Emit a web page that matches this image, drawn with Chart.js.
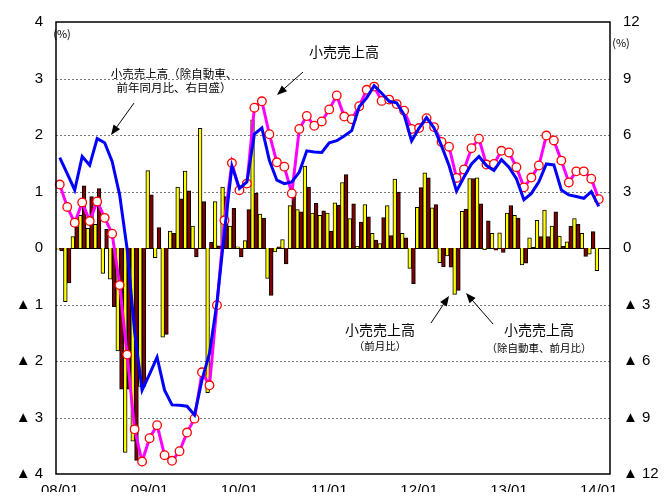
<!DOCTYPE html>
<html lang="ja">
<head>
<meta charset="utf-8">
<title>小売売上高</title>
<script src="https://cdn.jsdelivr.net/npm/chart.js@4.4.1/dist/chart.umd.min.js"></script>
<style>
  html, body { margin: 0; padding: 0; background: #fff; }
  #wrap { position: relative; width: 668px; height: 496px; }
</style>
</head>
<body>
<div id="wrap"><canvas id="retail-chart"></canvas></div>
<script>
// months from 08/01 to 14/02 (last slot is empty, as in the original)
const years = ['08', '09', '10', '11', '12', '13'];
const months = ['01', '02', '03', '04', '05', '06', '07', '08', '09', '10', '11', '12'];
const categories = [];
years.forEach(y => months.forEach(m => categories.push(y + '/' + m)));
categories.push('14/01', '14/02');

// 小売売上高(前月比), left axis %
const retailMoM = [
  -0.02, -0.95, 0.20, 0.58, 0.35, 0.42, -0.45, -0.55, -1.82, -3.62, -3.42, -2.45,
  1.37, -0.17, -1.58, 0.30, 1.08, 1.36, 0.39, 2.12, -2.56, 0.82, 1.08, 0.39,
  0.02, 0.13, 2.27, 0.60, -0.54, -0.07, 0.15, 0.75, 0.68, 1.45, 0.62, 0.58,
  0.62, 0.80, 1.16, 0.52, 0.03, 0.77, 0.26, 0.08, 0.75, 1.22, 0.26, -0.36,
  0.72, 1.33, 0.71, -0.26, -0.14, -0.82, 0.65, 1.23, 1.24, -0.03, 0.26, 0.27,
  0.62, 0.58, -0.30, 0.18, 0.49, 0.67, 0.39, 0.21, 0.11, 0.52, 0.26, -0.11,
  -0.40, null
];

// 小売売上高(除自動車、前月比), left axis %
const exAutoMoM = [
  -0.05, -0.62, 0.37, 1.10, 0.91, 1.05, 0.33, -1.04, -2.50, -2.50, -3.76, -2.45,
  0.94, 0.36, -1.53, 0.26, 0.87, 1.01, -0.16, 0.82, 0.10, 0.04, 0.91, 0.70,
  -0.16, 0.68, 0.97, 0.53, -0.84, 0.02, -0.28, 0.91, 0.64, 1.08, 0.79, 0.66,
  0.30, 0.76, 1.30, 0.78, 0.46, 0.55, 0.14, 0.54, 0.22, 0.99, 0.18, -0.63,
  1.07, 1.24, 0.77, -0.33, -0.34, -0.75, 0.69, 1.23, 0.78, 0.48, -0.04, -0.08,
  0.75, 0.53, -0.27, 0.01, 0.20, 0.20, 0.64, 0.03, 0.39, 0.42, -0.15, 0.29,
  -0.01, null
];

// 小売売上高(前年同月比), right axis %
const retailYoY = [
  3.37, 2.18, 1.34, 2.42, 1.43, 2.47, 1.60, 0.76, -1.97, -5.66, -9.63, -11.34,
  -10.10, -9.41, -11.00, -11.30, -10.79, -9.80, -9.06, -6.60, -7.29, -3.04, 1.47, 4.51,
  3.07, 3.42, 7.45, 7.79, 6.04, 4.55, 4.32, 2.90, 6.32, 7.01, 6.49, 6.72,
  7.36, 8.10, 6.98, 6.84, 7.53, 8.40, 8.57, 7.81, 7.88, 7.64, 7.29, 6.32,
  6.37, 6.89, 6.42, 5.63, 5.38, 3.72, 4.17, 5.30, 5.80, 4.43, 4.46, 5.16,
  5.07, 4.29, 3.22, 3.74, 4.38, 5.97, 5.71, 4.64, 3.48, 4.07, 4.07, 3.68,
  2.59, null
];

// 小売売上高(除自動車、前年同月比), right axis %
const exAutoYoY = [
  4.80, 3.95, 3.08, 4.86, 4.40, 5.81, 5.59, 4.60, 2.82, -0.05, -4.45, -7.55,
  -6.70, -5.80, -7.55, -8.33, -8.35, -8.40, -8.87, -7.00, -5.60, -2.90, 0.85, 4.35,
  3.16, 3.51, 6.05, 6.38, 4.65, 3.60, 3.42, 3.51, 4.03, 5.16, 5.10, 5.07,
  5.59, 5.70, 5.95, 6.23, 7.50, 7.97, 8.62, 8.22, 7.79, 7.71, 7.07, 5.68,
  6.37, 6.92, 6.37, 5.42, 4.38, 3.02, 3.77, 4.46, 4.86, 4.38, 4.12, 4.69,
  4.29, 3.68, 2.56, 2.90, 3.51, 4.46, 4.41, 3.08, 2.82, 2.73, 2.64, 2.99,
  2.21, null
];

const leftTicks = [-4, -3, -2, -1, 0, 1, 2, 3, 4];
const rightTicks = [-12, -9, -6, -3, 0, 3, 6, 9, 12];

const tickFont = { family: "'Liberation Sans', 'Noto Sans CJK JP', sans-serif", size: 15 };
const jpFont = "'Noto Sans CJK JP', sans-serif";
const signed = v => v < 0 ? '▲ ' + (-v) : String(v);

function arrow(ctx, x1, y1, x2, y2) {
  const ang = Math.atan2(y2 - y1, x2 - x1);
  ctx.beginPath();
  ctx.moveTo(x1, y1);
  ctx.lineTo(x2 - 6 * Math.cos(ang), y2 - 6 * Math.sin(ang));
  ctx.stroke();
  ctx.beginPath();
  ctx.moveTo(x2, y2);
  ctx.lineTo(x2 - 10 * Math.cos(ang) + 4 * Math.sin(ang), y2 - 10 * Math.sin(ang) - 4 * Math.cos(ang));
  ctx.lineTo(x2 - 10 * Math.cos(ang) - 4 * Math.sin(ang), y2 - 10 * Math.sin(ang) + 4 * Math.cos(ang));
  ctx.closePath();
  ctx.fill();
}

function label(ctx, text, x, y, size) {
  ctx.font = size + 'px ' + jpFont;
  ctx.fillText(text, x, y);
}

const framePlugin = {
  id: 'frame',
  beforeDatasetsDraw(chart) {
    const { ctx, chartArea: a, scales } = chart;
    ctx.save();
    // dotted gridlines
    ctx.strokeStyle = '#7a7a7a';
    ctx.lineWidth = 1;
    ctx.setLineDash([2, 2]);
    leftTicks.filter(v => v !== 0 && Math.abs(v) !== 4).forEach(v => {
      const py = Math.round(scales.y.getPixelForValue(v)) + 0.5;
      ctx.beginPath();
      ctx.moveTo(a.left, py);
      ctx.lineTo(a.right, py);
      ctx.stroke();
    });
    // zero line
    ctx.setLineDash([]);
    ctx.strokeStyle = '#000';
    const y0 = Math.round(scales.y.getPixelForValue(0)) + 0.5;
    ctx.beginPath();
    ctx.moveTo(a.left, y0);
    ctx.lineTo(a.right, y0);
    ctx.stroke();
    ctx.restore();
  },
  afterDraw(chart) {
    const { ctx, chartArea: a } = chart;
    ctx.save();
    ctx.strokeStyle = '#000';
    ctx.lineWidth = 1.5;
    ctx.strokeRect(a.left, a.top, a.right - a.left, a.bottom - a.top);

    ctx.fillStyle = '#000';
    ctx.textAlign = 'center';
    ctx.textBaseline = 'middle';
    label(ctx, '(%)', 62, 34, 11);
    label(ctx, '(%)', 621, 43, 11);

    label(ctx, '小売売上高（除自動車、', 174, 74, 11.5);
    label(ctx, '前年同月比、右目盛）', 174, 88, 11.5);
    label(ctx, '小売売上高', 344, 52, 14);
    label(ctx, '小売売上高', 380, 330, 14);
    label(ctx, '（前月比）', 380, 346, 10.5);
    label(ctx, '小売売上高', 539, 330, 14);
    label(ctx, '（除自動車、前月比）', 539, 348, 10.5);

    ctx.lineWidth = 1;
    arrow(ctx, 134, 103, 111, 135);
    arrow(ctx, 303, 72, 277, 95);
    arrow(ctx, 431, 323, 449, 296);
    arrow(ctx, 493, 324, 466, 293);
    ctx.restore();
  }
};

new Chart(document.getElementById('retail-chart'), {
  data: {
    labels: categories,
    datasets: [
      {
        type: 'line', label: '小売売上高(除自動車、前年同月比)', data: exAutoYoY, yAxisID: 'y1',
        borderColor: '#0000ff', borderWidth: 3, pointRadius: 0, tension: 0, order: 1
      },
      {
        type: 'line', label: '小売売上高(前年同月比)', data: retailYoY, yAxisID: 'y1',
        borderColor: '#ff00ff', borderWidth: 3, tension: 0,
        pointRadius: 4.3, pointBackgroundColor: '#ffffff', pointBorderColor: '#ff0000', pointBorderWidth: 1.3,
        order: 2
      },
      {
        type: 'bar', label: '小売売上高(前月比)', data: retailMoM, yAxisID: 'y',
        backgroundColor: '#ffff00', borderColor: '#000', borderWidth: 1,
        categoryPercentage: 1, barPercentage: 1, order: 3
      },
      {
        type: 'bar', label: '小売売上高(除自動車、前月比)', data: exAutoMoM, yAxisID: 'y',
        backgroundColor: '#800000', borderColor: '#000', borderWidth: 1,
        categoryPercentage: 1, barPercentage: 1, order: 3
      }
    ]
  },
  options: {
    responsive: true,
    maintainAspectRatio: false,
    animation: false,
    layout: { padding: { top: 17, left: 0, right: 0, bottom: 0 } },
    plugins: { legend: { display: false }, tooltip: { enabled: false } },
    scales: {
      x: {
        type: 'category',
        grid: { display: false, drawTicks: false },
        border: { display: false },
        ticks: {
          autoSkip: false, maxRotation: 0, padding: 8, color: '#000', font: tickFont,
          callback: (v, i) => categories[i].endsWith('/01') ? categories[i] : ''
        },
        afterFit: s => { s.height = 18; }
      },
      y: {
        position: 'left', min: -4, max: 4,
        afterBuildTicks: s => { s.ticks = leftTicks.map(v => ({ value: v })); },
        ticks: { padding: 13, color: '#000', font: tickFont, callback: signed },
        grid: { display: false, drawTicks: false },
        border: { display: false },
        afterFit: s => { s.width = 56; }
      },
      y1: {
        position: 'right', min: -12, max: 12,
        afterBuildTicks: s => { s.ticks = rightTicks.map(v => ({ value: v })); },
        ticks: { padding: 13, color: '#000', font: tickFont, callback: signed },
        grid: { drawOnChartArea: false, drawTicks: false },
        border: { display: false },
        afterFit: s => { s.width = 58; }
      }
    }
  },
  plugins: [framePlugin]
});
</script>
</body>
</html>
